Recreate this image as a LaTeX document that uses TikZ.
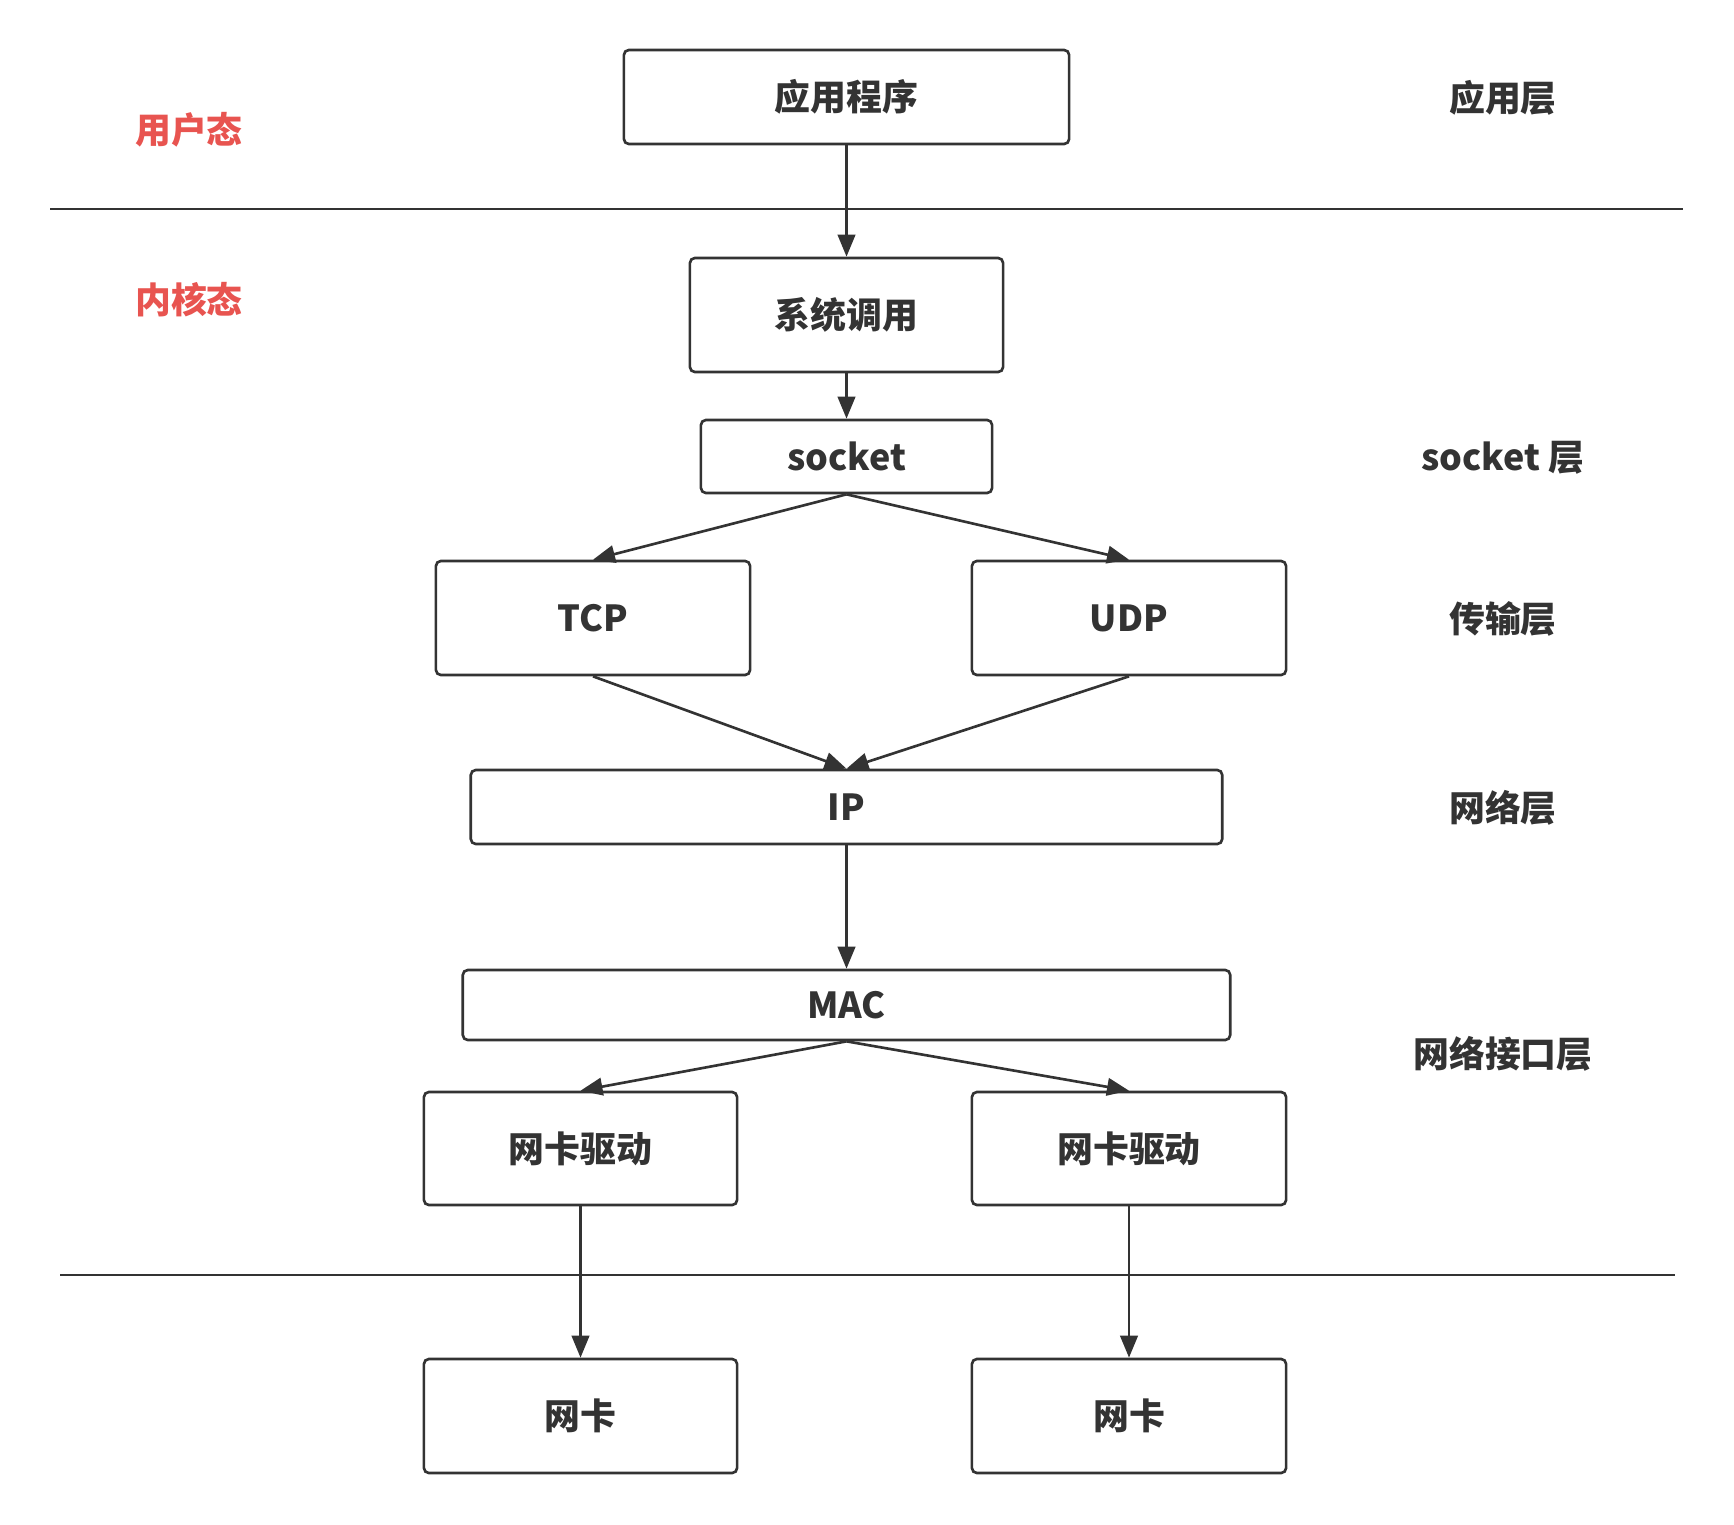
\documentclass[tikz,border=0pt]{standalone}
\usepackage{fontspec}
\setmainfont{Noto Sans CJK SC}
\usepackage{tikz}
\usetikzlibrary{arrows.meta,positioning}

\definecolor{ink}{HTML}{333333}
\definecolor{modered}{HTML}{E85450}

\begin{document}
\begin{tikzpicture}[
  x={(0.01cm,0cm)},
  y={(0cm,-0.01cm)},
  font=\fontsize{10.2}{12}\selectfont\bfseries,
  >={Triangle[length=2.2mm,width=1.75mm]},
  layerbox/.style={draw=ink, text=ink, line width=0.75pt, rounded corners=0.5mm, inner sep=0pt},
  flow/.style={->, draw=ink, fill=ink, line width=0.75pt},
  divider/.style={draw=ink, line width=0.75pt},
  layerlabel/.style={text=ink, inner sep=0pt},
  modelabel/.style={text=modered, inner sep=0pt}
]
\useasboundingbox (0,0) rectangle (1734,1524);

% boxes
\node[layerbox, minimum width=4.45cm, minimum height=0.94cm] (app) at (846.5,97) {应用程序};
\node[layerbox, minimum width=3.13cm, minimum height=1.14cm] (syscall) at (846.5,315) {系统调用};
\node[layerbox, minimum width=2.91cm, minimum height=0.73cm] (sock) at (846.5,456.5) {socket};
\node[layerbox, minimum width=3.14cm, minimum height=1.14cm] (tcp) at (593,618) {TCP};
\node[layerbox, minimum width=3.14cm, minimum height=1.14cm] (udp) at (1129,618) {UDP};
\node[layerbox, minimum width=7.51cm, minimum height=0.74cm] (ip) at (846.5,807) {IP};
\node[layerbox, minimum width=7.67cm, minimum height=0.70cm] (mac) at (846.5,1005) {MAC};
\node[layerbox, minimum width=3.13cm, minimum height=1.13cm] (drvL) at (580.5,1148.5) {网卡驱动};
\node[layerbox, minimum width=3.14cm, minimum height=1.13cm] (drvR) at (1129,1148.5) {网卡驱动};
\node[layerbox, minimum width=3.13cm, minimum height=1.14cm] (nicL) at (580.5,1416) {网卡};
\node[layerbox, minimum width=3.14cm, minimum height=1.14cm] (nicR) at (1129,1416) {网卡};

% mode and layer labels
\node[modelabel] (user) at (189,130) {用户态};
\node[modelabel] (kernel) at (189,300) {内核态};
\node[layerlabel] (lapp) at (1503,98) {应用层};
\node[layerlabel] (lsock) at (1503,458) {socket 层};
\node[layerlabel] (ltrans) at (1503,619) {传输层};
\node[layerlabel] (lnet) at (1503,808) {网络层};
\node[layerlabel] (llink) at (1503,1054) {网络接口层};

% boundaries
\coordinate (topL) at (50,209);
\coordinate (topR) at (1683,209);
\coordinate (botL) at (60,1275);
\coordinate (botR) at (1675,1275);
\draw[divider] (topL) -- (topR);
\draw[divider] (botL) -- (botR);

% connectors
\draw[flow] (app.south) -- (syscall.north);
\draw[flow] (syscall.south) -- (sock.north);
\draw[flow] (sock.south) -- (tcp.north);
\draw[flow] (sock.south) -- (udp.north);
\draw[flow] (tcp.south) -- (ip.north);
\draw[flow] (udp.south) -- (ip.north);
\draw[flow] (ip.south) -- (mac.north);
\draw[flow] (mac.south) -- (drvL.north);
\draw[flow] (mac.south) -- (drvR.north);
\draw[flow] (drvL.south) -- (nicL.north);
\draw[flow] (drvR.south) -- (nicR.north);
\end{tikzpicture}
\end{document}
